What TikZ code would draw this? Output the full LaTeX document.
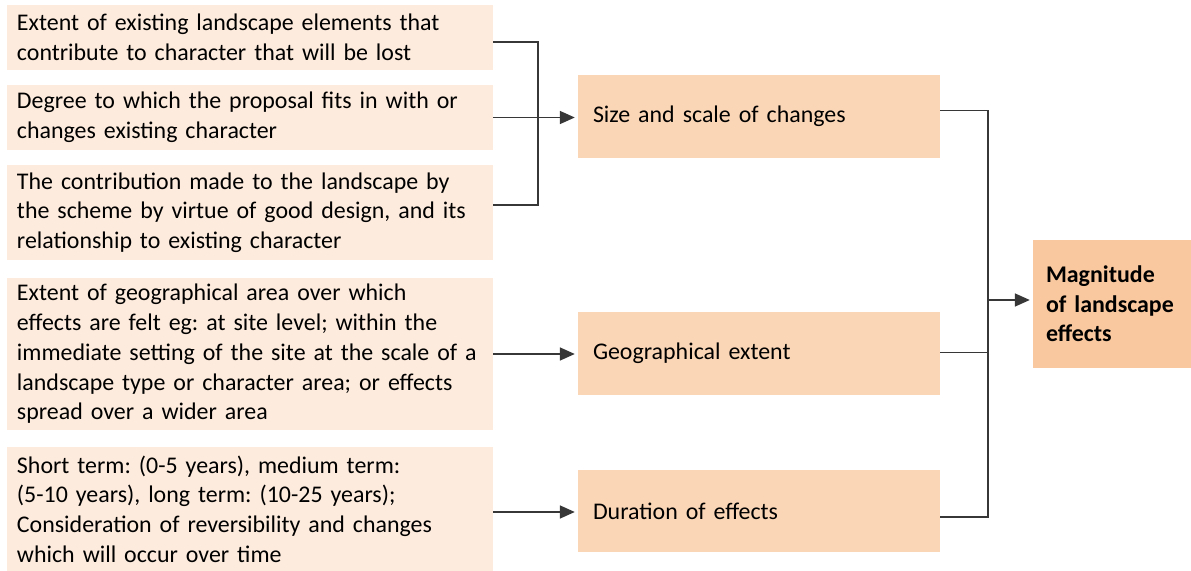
\documentclass[tikz,border=0pt]{standalone}
\usepackage{fontspec}
\setmainfont{Carlito}
\usetikzlibrary{arrows.meta,calc}
\definecolor{lcol}{RGB}{253,235,221}
\definecolor{mcol}{RGB}{251,214,182}
\definecolor{rcol}{RGB}{249,200,158}
\definecolor{lncol}{RGB}{55,55,55}
\tikzset{
  lbox/.style={fill=lcol, draw=none, text width=466bp, inner xsep=10bp, inner ysep=0bp, align=left, anchor=center, font=\fontsize{24}{29.8}\selectfont},
  mbox/.style={fill=mcol, draw=none, text width=332bp, inner xsep=15bp, inner ysep=0bp, align=left, anchor=center, font=\fontsize{24}{29.8}\selectfont},
  rbox/.style={fill=rcol, draw=none, text width=132bp, inner xsep=13bp, inner ysep=0bp, align=left, anchor=center, font=\fontsize{24}{29.8}\selectfont\bfseries},
  conn/.style={draw=lncol, line width=1.7bp},
  arr/.style={conn, -{Triangle[length=15bp,width=13bp]}}
}
\frenchspacing
\begin{document}
\begin{tikzpicture}[x=1bp,y=1bp]
\useasboundingbox (0,0) rectangle (1191,-571);
% left boxes
\node[lbox, minimum height=65bp] (b1) at (250,-37.5) {Extent of existing landscape elements that\\contribute to character that will be lost};
\node[lbox, minimum height=65bp] (b2) at (250,-117.5) {Degree to which the proposal fits in with or\\changes existing character};
\node[lbox, minimum height=95bp] (b3) at (250,-212.5) {The contribution made to the landscape by\\the scheme by virtue of good design, and its\\relationship to existing character};
\node[lbox, minimum height=152bp] (b4) at (250,-354) {Extent of geographical area over which\\effects are felt eg: at site level; within the\\immediate setting of the site at the scale of a\\landscape type or character area; or effects\\spread over a wider area};
\node[lbox, minimum height=124bp] (b5) at (250,-509) {Short term: (0-5 years), medium term:\\(5-10 years), long term: (10-25 years);\\Consideration of reversibility and changes\\which will occur over time};
% middle boxes
\node[mbox, minimum height=83bp] (m1) at (759,-116.5) {Size and scale of changes};
\node[mbox, minimum height=83bp] (m2) at (759,-353.5) {Geographical extent};
\node[mbox, minimum height=82bp] (m3) at (759,-511) {Duration of effects};
% right box
\node[rbox, minimum height=128bp] (r) at (1112,-304) {Magnitude\\of landscape\\effects};
% connectors left
\coordinate (j1) at (538,-118);
\draw[conn] ([yshift=-4.5bp]b1.east) -| (j1);
\draw[conn] ([yshift=7.5bp]b3.east) -| (j1);
\draw[arr] (b2.east) -- ([xshift=-3bp]b2.east -| m1.west);
\draw[arr] (b4.east) -- ([xshift=-3bp]b4.east -| m2.west);
\draw[arr] ([yshift=-3bp]b5.east) -- ([xshift=-3bp,yshift=-3bp]b5.east -| m3.west);
% connectors right
\coordinate (j2) at (988,-300);
\draw[conn] ([yshift=6bp]m1.east) -| (j2);
\draw[conn] ([yshift=1bp]m2.east) -| (j2);
\draw[conn] ([yshift=-6bp]m3.east) -| (j2);
\draw[arr] (j2) -- ([xshift=-3bp]j2 -| r.west);
\end{tikzpicture}
\end{document}
